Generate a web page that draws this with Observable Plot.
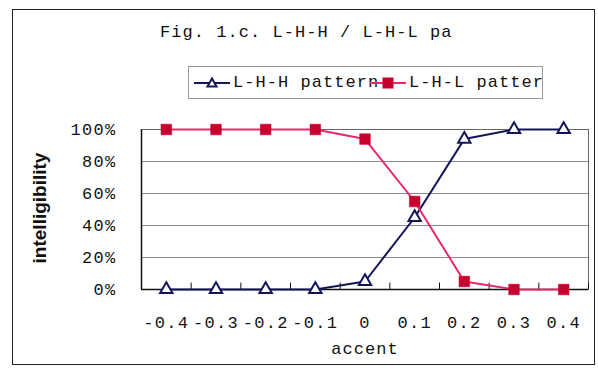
<!DOCTYPE html>
<html>
<head>
<meta charset="utf-8">
<script src="https://cdn.jsdelivr.net/npm/d3@7"></script>
<script src="https://cdn.jsdelivr.net/npm/@observablehq/plot@0.6"></script>
<style>
  html, body { margin: 0; padding: 0; background: #fff; }
  #wrap { position: relative; width: 598px; height: 369px; overflow: hidden; }
  #chart { position: absolute; left: 0; top: 0; }
  .frame { position: absolute; left: 12px; top: 9px; width: 581px; height: 354px; border: 1.5px solid #222; box-sizing: content-box; }
  .mono { font-family: "Liberation Mono", "DejaVu Sans Mono", monospace; font-size: 17px; letter-spacing: 1.05px; color: #111; white-space: nowrap; }
  #title { position: absolute; left: 160px; top: 24px; line-height: 18px; }
  #legend { position: absolute; left: 188px; top: 66px; width: 353px; height: 31px; border: 1px solid #999; background: #fff; }
  #legend .item { position: absolute; top: 0; height: 31px; display: flex; align-items: center; }
  #ylabel { position: absolute; left: 40px; top: 208px; transform: translate(-50%, -50%) rotate(-90deg); font-family: "Liberation Sans", Arial, sans-serif; font-weight: bold; font-size: 19px; color: #111; white-space: nowrap; }
  #xlabel { position: absolute; left: 365px; top: 341px; transform: translateX(-50%); line-height: 18px; }
</style>
</head>
<body>
<div id="wrap">
  <div id="chart"></div>
  <div class="frame"></div>
  <div id="title" class="mono"></div>
  <div id="legend"></div>
  <div id="ylabel"></div>
  <div id="xlabel" class="mono"></div>
</div>
<script>
// ---- data (text as it appears in the reference) ----
const titleText = "Fig. 1.c. L-H-H / L-H-L pa";
const xTitle = "accent";
const yTitle = "intelligibility";
const accent = [-0.4, -0.3, -0.2, -0.1, 0, 0.1, 0.2, 0.3, 0.4];
const accentLabels = ["-0.4", "-0.3", "-0.2", "-0.1", "0", "0.1", "0.2", "0.3", "0.4"];
const seriesNames = ["L-H-H pattern", "L-H-L pattern"];
const legendLabels = ["L-H-H pattern", "L-H-L patter"];
const lhh = [0, 0, 0, 0, 5, 45, 94, 100, 100];
const lhl = [100, 100, 100, 100, 94, 55, 5, 0, 0];
const yTicks = [0, 20, 40, 60, 80, 100];
const yTickLabels = ["0%", "20%", "40%", "60%", "80%", "100%"];

// ---- styles ----
const lineColors = ["#14145a", "#e8286a"];
const markFill = ["#ffffff", "#c8002e"];
const markStroke = ["#14145a", "#c8002e"];

// ---- derived table ----
const rows = [];
accent.forEach((a, i) => {
  rows.push({accent: a, value: lhh[i], series: seriesNames[0]});
  rows.push({accent: a, value: lhl[i], series: seriesNames[1]});
});
const step = accent[1] - accent[0];
const xMin = accent[0] - step / 2;
const xMax = accent[accent.length - 1] + step / 2;
const bounds = accent.map(a => a - step / 2).concat([xMax]);
const lab = new Map(accent.map((a, i) => [a.toFixed(2), accentLabels[i]]));
const yLab = new Map(yTicks.map((v, i) => [v, yTickLabels[i]]));

const s0 = rows.filter(d => d.series === seriesNames[0]);
const s1 = rows.filter(d => d.series === seriesNames[1]);

const chart = Plot.plot({
  width: 598,
  height: 369,
  marginTop: 129,
  marginRight: 10,
  marginBottom: 80,
  marginLeft: 141,
  style: {fontFamily: "Liberation Mono, DejaVu Sans Mono, monospace", fontSize: "17px", letterSpacing: "1.3px", color: "#111", background: "transparent"},
  x: {domain: [xMin, xMax], ticks: accent, tickFormat: d => lab.get(d.toFixed(2)), tickSize: 0, tickPadding: 26, label: null},
  y: {domain: [0, 100], ticks: yTicks, tickFormat: d => yLab.get(d), tickSize: 0, tickPadding: 25, label: null},
  marks: [
    Plot.ruleY(yTicks.filter(v => v > 0 && v < 100), {stroke: "#8a8a8a", strokeWidth: 1}),
    Plot.frame({stroke: "#666", strokeWidth: 1}),
    Plot.ruleX([xMin], {stroke: "#111", strokeWidth: 1.5}),
    Plot.ruleY([0], {stroke: "#111", strokeWidth: 1.5}),
    Plot.ruleX(bounds, {y1: 0, y2: 4, stroke: "#111", strokeWidth: 1}),
    Plot.line(s0, {x: "accent", y: "value", stroke: lineColors[0], strokeWidth: 2}),
    Plot.dot(s0, {x: "accent", y: "value", symbol: "triangle", r: 4.6, fill: markFill[0], stroke: markStroke[0], strokeWidth: 2}),
    Plot.line(s1, {x: "accent", y: "value", stroke: lineColors[1], strokeWidth: 2}),
    Plot.dot(s1, {x: "accent", y: "value", symbol: "square", r: 6, fill: markFill[1], stroke: markStroke[1], strokeWidth: 0.5})
  ]
});
document.getElementById("chart").appendChild(chart);

document.getElementById("title").textContent = titleText;
document.getElementById("xlabel").textContent = xTitle;
document.getElementById("ylabel").textContent = yTitle;

// legend
const legend = document.getElementById("legend");
const legendLeft = [4, 180];
legendLabels.forEach((name, i) => {
  const item = document.createElement("div");
  item.className = "item mono";
  item.style.left = legendLeft[i] + "px";
  const sw = i === 0
    ? `<svg width="38" height="14" style="flex:none"><line x1="1" x2="37" y1="7" y2="7" stroke="${lineColors[0]}" stroke-width="2"/><path d="M19,2.5 L23.5,10.5 L14.5,10.5 Z" fill="#fff" stroke="${markStroke[0]}" stroke-width="2"/></svg>`
    : `<svg width="38" height="14" style="flex:none"><line x1="1" x2="37" y1="7" y2="7" stroke="${lineColors[1]}" stroke-width="2"/><rect x="13.5" y="1.5" width="11" height="11" fill="${markFill[1]}"/></svg>`;
  item.innerHTML = sw + `<span style="margin-left:2px">${name}</span>`;
  legend.appendChild(item);
});
</script>
</body>
</html>
